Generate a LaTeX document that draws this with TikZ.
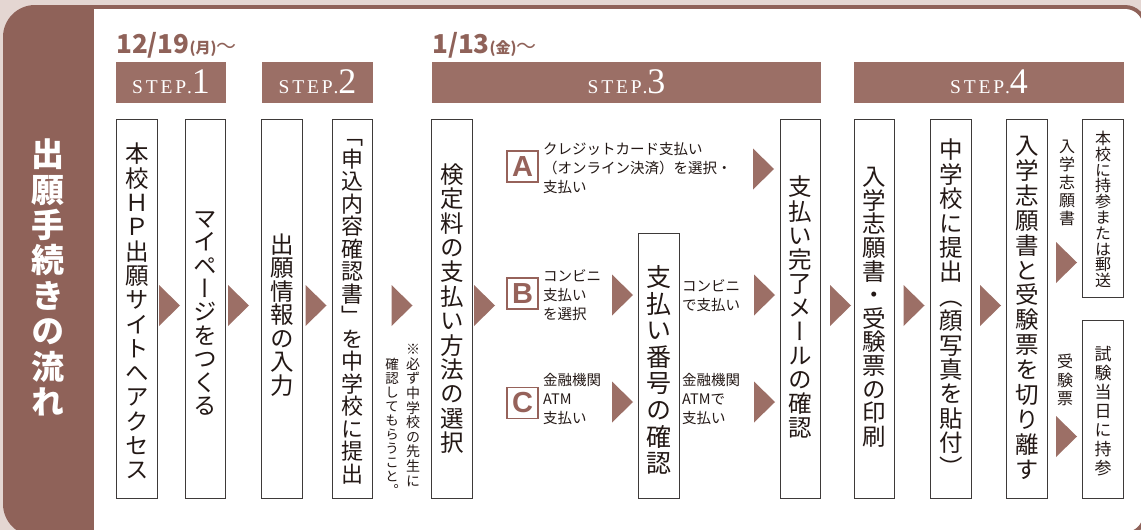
\documentclass[tikz,border=0pt]{standalone}
\usepackage{fontspec}
\newfontfamily\jp{Noto Sans CJK JP}
\newfontfamily\jpv[RawFeature=+vert]{Noto Sans CJK JP}
\newfontfamily\stepf[LetterSpace=15]{Liberation Serif}
\newfontfamily\stepd{Liberation Serif}
\newfontfamily\abcf{Liberation Sans}
\definecolor{bgp}{HTML}{E4D6D2}
\definecolor{panel}{HTML}{8F6259}
\definecolor{barc}{HTML}{9B6F66}
\definecolor{arrowc}{HTML}{9C6F66}
\definecolor{datec}{HTML}{8F6259}
\definecolor{abcc}{HTML}{96625A}
\definecolor{boxc}{HTML}{3E3A39}
\definecolor{txt}{HTML}{231815}
\makeatletter
\newdimen\vtp
\newcommand\vt[2]{\vtp=#1\relax\vbox{\offinterlineskip\@tfor\vtc:=#2\do{\hbox to 1em{\hss\vrule width0pt height\dimexpr.88em+(\vtp-1em)/2\relax depth\dimexpr.12em+(\vtp-1em)/2\relax\smash{\vtc}\hss}}}}
\makeatother
\newcommand\tri[2]{\fill[arrc] (#1,#2) ++(-10.5,-20.5) -- ++(21,20.5) -- ++(-21,20.5) -- cycle;}
\begin{document}
\begin{tikzpicture}[x=1pt,y=-1pt,
 box/.style={draw=boxc, line width=0.9pt, fill=white, inner sep=0pt, minimum width=40.5pt},
 vtx/.style={inner sep=0pt, text=txt},
 stepbar/.style={fill=barc, inner sep=0pt, minimum height=41pt},
 steptxt/.style={anchor=base, text=white, inner sep=0pt},
 abcbox/.style={draw=abcc, line width=1.3pt, fill=white, minimum size=31pt, inner sep=0pt, text=abcc, font=\abcf\bfseries\fontsize{29}{29}\selectfont},
 htx/.style={anchor=west, align=left, inner sep=0pt, text=txt, font=\jp\fontsize{14.5}{19}\selectfont},
 arrc/.style={fill=arrowc}]
\useasboundingbox (0,0) rectangle (1141,530);
% frame
\fill[bgp] (0,0) rectangle (1141,530);
\fill[panel, rounded corners=32pt] (3,5) rectangle (200,536);
\fill[panel, rounded corners=22pt] (100,5) rectangle (1147,536);
\fill[white, rounded corners=18pt] (94,9) rectangle (1143,532);
\fill[white] (94,9) rectangle (140,532);
% title
\node[inner sep=0pt, text=white, font=\jpv\bfseries\fontsize{33}{33}\selectfont] (title) at (48,278) {\vt{35.4pt}{出願手続きの流れ}};
% dates
\node[anchor=base west, inner sep=0pt, text=datec] (d1) at (116,53) {{\jp\bfseries\fontsize{26}{26}\selectfont 12/19}{\jp\bfseries\fontsize{15}{15}\selectfont(月)}{\jp\fontsize{20}{20}\selectfont 〜}};
\node[anchor=base west, inner sep=0pt, text=datec] (d2) at (432,53) {{\jp\bfseries\fontsize{26}{26}\selectfont 1/13}{\jp\bfseries\fontsize{15}{15}\selectfont(金)}{\jp\fontsize{20}{20}\selectfont 〜}};
% step bars
\node[stepbar, minimum width=110pt] (s1) at (171,82.5) {};
\node[stepbar, minimum width=111pt] (s2) at (317.5,82.5) {};
\node[stepbar, minimum width=389pt] (s3) at (626.5,82.5) {};
\node[stepbar, minimum width=270pt] (s4) at (989,82.5) {};
\node[steptxt] (st1) at (171,93) {{\stepf\fontsize{19.5}{20}\selectfont STEP.}{\stepd\fontsize{36}{36}\selectfont 1}};
\node[steptxt] (st2) at (317.5,93) {{\stepf\fontsize{19.5}{20}\selectfont STEP.}{\stepd\fontsize{36}{36}\selectfont 2}};
\node[steptxt] (st3) at (626.5,93) {{\stepf\fontsize{19.5}{20}\selectfont STEP.}{\stepd\fontsize{36}{36}\selectfont 3}};
\node[steptxt] (st4) at (989,93) {{\stepf\fontsize{19.5}{20}\selectfont STEP.}{\stepd\fontsize{36}{36}\selectfont 4}};
% boxes
\node[box, minimum height=379pt] (b1) at (137,308.5) {};
\node[box, minimum height=379pt] (b2) at (205.5,308.5) {};
\node[box, minimum height=379pt] (b3) at (282,308.5) {};
\node[box, minimum height=379pt] (b4) at (352.5,308.5) {};
\node[box, minimum height=379pt] (b5) at (452,308.5) {};
\node[box, minimum height=265pt] (b6) at (659,365.5) {};
\node[box, minimum height=379pt] (b7) at (800.5,308.5) {};
\node[box, minimum height=379pt] (b8) at (874.5,308.5) {};
\node[box, minimum height=379pt] (b9) at (951,308.5) {};
\node[box, minimum height=379pt] (b10) at (1027,308.5) {};
\node[box, minimum height=178pt] (b11) at (1103,208) {};
\node[box, minimum height=178pt] (b12) at (1103,409) {};
% box texts
\node[vtx, font=\jpv\fontsize{23.5}{23.5}\selectfont] (t1) at (137,312) {\vt{24.3pt}{本校ＨＰ出願サイトへアクセス}};
\node[vtx, font=\jpv\fontsize{23.5}{23.5}\selectfont] (t2) at (205.5,312) {\vt{23.4pt}{マイページをつくる}};
\node[vtx, font=\jpv\fontsize{23.5}{23.5}\selectfont] (t3) at (282,315) {\vt{23.5pt}{出願情報の入力}};
\node[vtx, font=\jpv\fontsize{22}{22}\selectfont] (t4) at (352.5,305) {\vt{22.5pt}{「申込内容確認書」を中学校に提出}};
\node[vtx, font=\jpv\fontsize{23.5}{23.5}\selectfont] (t5) at (452,308.5) {\vt{24.4pt}{検定料の支払い方法の選択}};
\node[vtx, font=\jpv\fontsize{25}{25}\selectfont] (t6) at (659,370) {\vt{26.6pt}{支払い番号の確認}};
\node[vtx, font=\jpv\fontsize{23.5}{23.5}\selectfont] (t7) at (800.5,307.5) {\vt{24.1pt}{支払い完了メールの確認}};
\node[vtx, font=\jpv\fontsize{23.5}{23.5}\selectfont] (t8) at (874.5,306.5) {\vt{23.6pt}{入学志願書・受験票の印刷}};
\node[vtx, font=\jpv\fontsize{23.5}{23.5}\selectfont] (t9) at (951,308.5) {\vt{24.4pt}{中学校に提出（顔写真を貼付）}};
\node[vtx, font=\jpv\fontsize{23.5}{23.5}\selectfont] (t10) at (1027,307.5) {\vt{24.9pt}{入学志願書と受験票を切り離す}};
\node[vtx, font=\jpv\fontsize{16}{16}\selectfont] (t11) at (1103,209.5) {\vt{15.8pt}{本校に持参または郵送}};
\node[vtx, font=\jpv\fontsize{17}{17}\selectfont] (t12) at (1103,411) {\vt{19pt}{試験当日に持参}};
\node[vtx, font=\jpv\fontsize{16}{16}\selectfont] (l1) at (1067,182.5) {\vt{18.2pt}{入学志願書}};
\node[vtx, font=\jpv\fontsize{16}{16}\selectfont] (l2) at (1065,380) {\vt{18.7pt}{受験票}};
\node[vtx, font=\jpv\fontsize{14}{14}\selectfont] (n1) at (413,415) {\vt{14.6pt}{※必ず中学校の先生に}};
\node[vtx, font=\jpv\fontsize{13.5}{13.5}\selectfont] (n2) at (392,427.5) {\vt{14pt}{確認してもらうこと。}};
% payment options
\node[abcbox] (la) at (522.5,166.5) {A};
\node[abcbox] (lb) at (522.5,293.5) {B};
\node[abcbox] (lc) at (522.5,403) {C};
\node[htx] (ta) at (543,168) {クレジットカード支払い\\（オンライン決済）を選択・\\支払い};
\node[htx] (tb) at (543,295) {コンビニ\\支払い\\を選択};
\node[htx] (tc) at (543,399) {金融機関\\ATM\\支払い};
\node[htx] (tb2) at (682,296) {コンビニ\\で支払い};
\node[htx] (tc2) at (682,399) {金融機関\\ATMで\\支払い};
% arrows
\tri{169.5}{305.5}
\tri{238.5}{305.5}
\tri{316}{305.5}
\tri{402}{305.5}
\tri{484.5}{305.5}
\tri{763.5}{169}
\tri{622.5}{295}
\tri{764.5}{295}
\tri{622.5}{402}
\tri{764.5}{402}
\tri{840.5}{305.5}
\tri{914}{305.5}
\tri{990.5}{305.5}
\tri{1066.5}{262.5}
\tri{1066.5}{436.5}
\end{tikzpicture}
\end{document}
